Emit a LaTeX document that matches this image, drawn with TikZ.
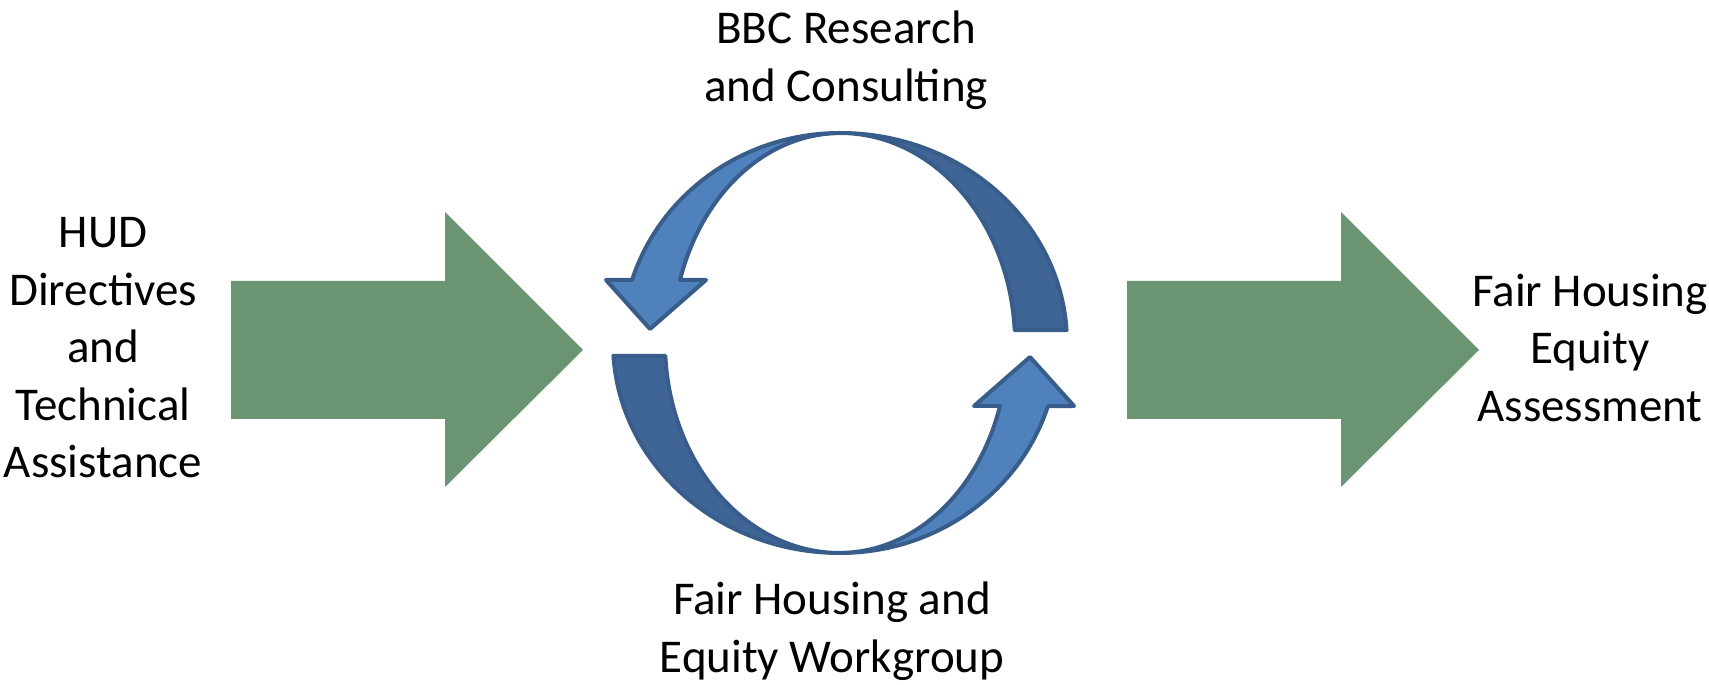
\documentclass[tikz,border=0pt]{standalone}
\usepackage{fontspec}
\setmainfont{Carlito}
\usetikzlibrary{positioning}

\definecolor{flowgreen}{RGB}{107,149,114}
\definecolor{cyclelight}{RGB}{79,129,189}
\definecolor{cycledark}{RGB}{63,101,150}
\definecolor{cycleline}{RGB}{56,93,138}

\tikzset{
  flowarrow/.style={fill=flowgreen, draw=none},
  backband/.style={fill=cycledark, draw=cycleline, line width=2pt, line join=round},
  frontband/.style={fill=cyclelight, draw=cycleline, line width=2pt, line join=round},
  boxtext/.style={align=center, inner sep=0pt, font=\fontsize{23.5}{28.75}\selectfont}
}

\begin{document}
\begin{tikzpicture}[x=0.5pt, y=0.5pt]
  \useasboundingbox (0,0) rectangle (1709,685);

  % big green arrows
  \fill[flowarrow] (231,266) -- (445,266) -- (445,198) -- (583,335) -- (445,473) -- (445,404) -- (231,404) -- cycle;
  \fill[flowarrow] (1127,266) -- (1341,266) -- (1341,198) -- (1479,335) -- (1341,473) -- (1341,404) -- (1127,404) -- cycle;

  % the two curved arrows
  \coordinate (hub) at (840,342);
  \foreach \turn in {0,180} {
    \begin{scope}[shift={(hub)}, rotate=\turn]
      \draw[backband] (3.5:227 and 210) arc[start angle=3.5, end angle=90, x radius=227, y radius=210]
        arc[start angle=90, end angle=3.5, x radius=175, y radius=210] -- cycle;
      \draw[frontband] (0,210) arc[start angle=90, end angle=162.5, x radius=218, y radius=210]
        -- (-234,63) -- (-190,14) -- (-134,63) -- (-160,63)
        arc[start angle=162.5, end angle=90, x radius=168, y radius=210] -- cycle;
    \end{scope}
  }

  \node[boxtext] (hud) at (103,337) {HUD\\Directives\\and\\Technical\\Assistance};
  \node[boxtext] (fhea) at (1590,337) {Fair Housing\\Equity\\Assessment};
  \node[boxtext] (bbc) at (846,625) {BBC Research\\and Consulting};
  \node[boxtext] (workgroup) at (832,54) {Fair Housing and\\Equity Workgroup};
\end{tikzpicture}
\end{document}
